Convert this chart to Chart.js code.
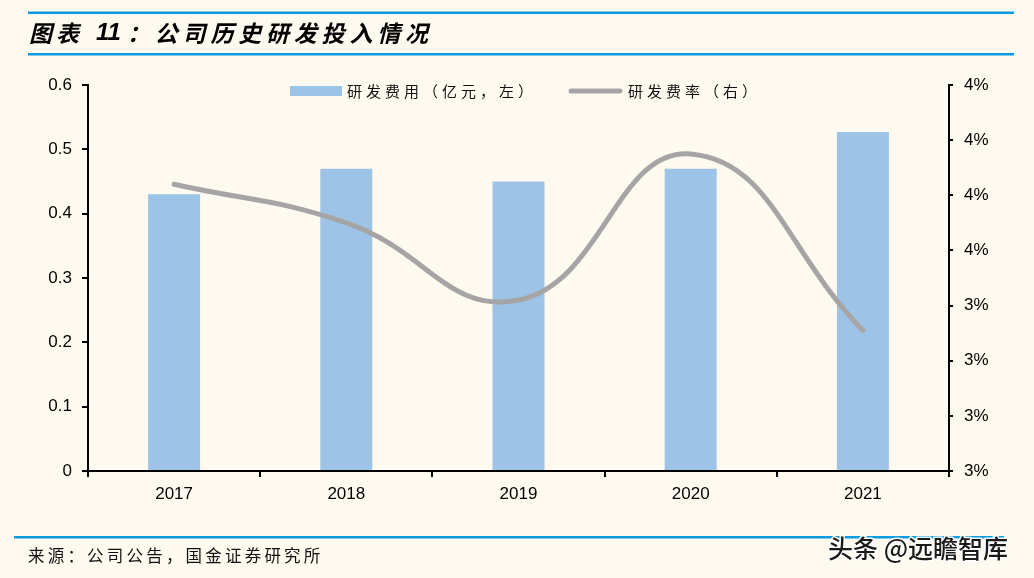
<!DOCTYPE html>
<html>
<head>
<meta charset="utf-8">
<script src="https://cdn.jsdelivr.net/npm/chart.js@4/dist/chart.umd.min.js"></script>
<style>
html,body{margin:0;padding:0;background:#fffaf0;}
canvas{display:block;}
</style>
</head>
<body>
<canvas id="c" width="1034" height="578"></canvas>
<script>
const categories = ['2017', '2018', '2019', '2020', '2021'];
const rdExpense = [0.43, 0.47, 0.45, 0.47, 0.527];      // 亿元, left axis
const rdRate = [3.84, 3.70, 3.42, 3.95, 3.31];           // %, right axis
const leftTicks = [0, 0.1, 0.2, 0.3, 0.4, 0.5, 0.6];
const rightTicks = [2.8, 3.0, 3.2, 3.4, 3.6, 3.8, 4.0, 4.2];
const seriesNames = ['研发费用（亿元，左）', '研发费率（右）'];
const titleParts = ['图表', '11', '：公司历史研发投入情况'];
const sourceText = '来源：公司公告，国金证券研究所';
const watermark = '头条 @远瞻智库';

const BG = '#fffaf0';
const BLUE_LINE = '#0a9be0';
const BAR = '#9dc3e6';
const LINE = '#a5a5a5';
const TICK_FONT = {family: 'Liberation Sans, Arial, sans-serif', size: 17};

const decor = {
  id: 'decor',
  beforeDraw(chart) {
    const ctx = chart.ctx;
    ctx.save();
    ctx.fillStyle = BG;
    ctx.fillRect(0, 0, chart.width, chart.height);
    ctx.restore();
  },
  afterDraw(chart) {
    const ctx = chart.ctx;
    ctx.save();
    // header lines
    ctx.fillStyle = BLUE_LINE;
    ctx.fillRect(28, 11.5, 986, 2.5);
    ctx.fillRect(28, 53, 986, 2.5);
    ctx.fillRect(14, 536, 990, 2.5);
    // title
    ctx.fillStyle = '#000';
    ctx.textBaseline = 'middle';
    ctx.font = 'italic bold 23px "Noto Sans CJK SC", sans-serif';
    ctx.letterSpacing = '4px';
    ctx.fillText(titleParts[0], 29, 33);
    ctx.letterSpacing = '0px';
    ctx.font = 'italic bold 24px "Liberation Sans", Arial, sans-serif';
    ctx.fillText(titleParts[1], 96, 33);
    ctx.font = 'italic bold 23px "Noto Sans CJK SC", sans-serif';
    ctx.letterSpacing = '4.8px';
    ctx.fillText(titleParts[2], 127, 33);
    // source
    ctx.font = '16.5px "Noto Sans CJK SC", sans-serif';
    ctx.letterSpacing = '3.2px';
    ctx.fillStyle = '#111';
    ctx.fillText(sourceText, 28, 556);
    // watermark
    ctx.letterSpacing = '0px';
    ctx.font = '500 25px "Noto Sans CJK SC", sans-serif';
    ctx.lineWidth = 3;
    ctx.strokeStyle = 'rgba(255,255,255,0.9)';
    ctx.strokeText(watermark, 828, 548);
    ctx.fillStyle = '#1a1a1a';
    ctx.fillText(watermark, 828, 548);
    // legend
    const ds = chart.data.datasets;
    const barDs = ds.find(d => d.type === 'bar');
    const lineDs = ds.find(d => d.type === 'line');
    ctx.font = '15px "Noto Sans CJK SC", sans-serif';
    ctx.letterSpacing = '4px';
    ctx.fillStyle = barDs.backgroundColor;
    ctx.fillRect(290, 86, 52, 10);
    ctx.fillStyle = '#111';
    ctx.fillText(barDs.label, 347, 91);
    ctx.strokeStyle = lineDs.borderColor;
    ctx.lineWidth = 5;
    ctx.lineCap = 'round';
    ctx.beginPath();
    ctx.moveTo(571, 91);
    ctx.lineTo(620, 91);
    ctx.stroke();
    ctx.fillText(lineDs.label, 628, 91);
    ctx.restore();
  }
};

new Chart(document.getElementById('c'), {
  type: 'bar',
  data: {
    labels: categories,
    datasets: [
      {
        type: 'line',
        label: seriesNames[1],
        data: rdRate,
        yAxisID: 'y1',
        borderColor: LINE,
        backgroundColor: LINE,
        borderWidth: 5,
        borderCapStyle: 'round',
        tension: 0.45,
        pointRadius: 0,
        fill: false,
        order: 0
      },
      {
        type: 'bar',
        label: seriesNames[0],
        data: rdExpense,
        yAxisID: 'y',
        backgroundColor: BAR,
        borderWidth: 0,
        categoryPercentage: 1,
        barPercentage: 0.302,
        order: 1
      }
    ]
  },
  options: {
    responsive: false,
    animation: false,
    devicePixelRatio: 1,
    layout: {padding: {top: 85, left: 0, right: 0, bottom: 0}},
    plugins: {legend: {display: false}, tooltip: {enabled: false}, title: {display: false}},
    scales: {
      x: {
        grid: {display: true, drawOnChartArea: false, drawTicks: true, tickLength: 6, color: '#000', lineWidth: 2, offset: true},
        border: {display: true, color: '#000', width: 2},
        ticks: {color: '#000', font: TICK_FONT, padding: 7, maxRotation: 0},
        afterFit(s) { s.height = 107; }
      },
      y: {
        position: 'left',
        min: 0, max: 0.6,
        afterBuildTicks(s) { s.ticks = leftTicks.map(v => ({value: v})); },
        grid: {display: true, drawOnChartArea: false, drawTicks: true, tickLength: 6, color: '#000', lineWidth: 2},
        border: {display: true, color: '#000', width: 2},
        ticks: {color: '#000', font: TICK_FONT, padding: 10, callback: v => String(Math.round(v * 10) / 10)},
        afterFit(s) { s.width = 88; }
      },
      y1: {
        position: 'right',
        min: 2.8, max: 4.2,
        afterBuildTicks(s) { s.ticks = rightTicks.map(v => ({value: v})); },
        grid: {display: true, drawOnChartArea: false, drawTicks: true, tickLength: 4, color: '#000', lineWidth: 2},
        border: {display: true, color: '#000', width: 2},
        ticks: {color: '#000', font: TICK_FONT, padding: 11, callback: v => Math.round(v) + '%'},
        afterFit(s) { s.width = 85; }
      }
    }
  },
  plugins: [decor]
});
</script>
</body>
</html>
